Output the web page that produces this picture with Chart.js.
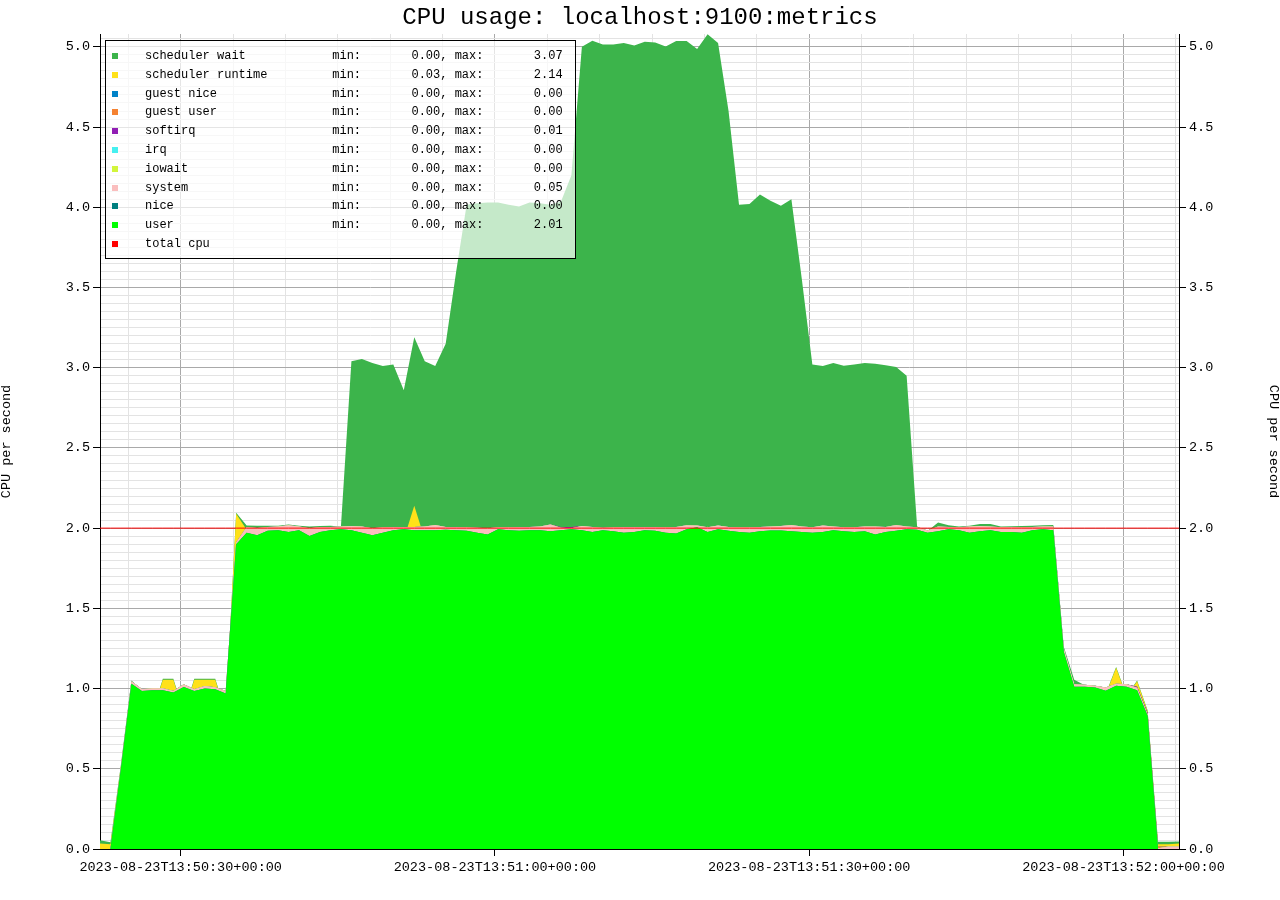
<!DOCTYPE html>
<html>
<head>
<meta charset="utf-8">
<title>CPU usage: localhost:9100:metrics</title>
<script src="https://cdn.jsdelivr.net/npm/chart.js@4.4.0/dist/chart.umd.min.js"></script>
<style>
  html, body { margin: 0; padding: 0; background: #fff; }
  #lienzo { position: relative; width: 1280px; height: 900px; }
  #titulo {
    position: absolute; left: 0; top: 4px; width: 1280px; text-align: center;
    font: 24px "Liberation Mono", monospace; line-height: 28px; color: #000;
  }
  #leyenda {
    position: absolute; left: 105px; top: 40px; width: 469px; height: 217px;
    border: 1px solid #000; background: rgba(255, 255, 255, 0.7);
    font: 12px "Liberation Mono", monospace; color: #000;
  }
  .fila { position: absolute; left: 0; height: 18px; line-height: 18px; white-space: pre; }
  .fila i { position: absolute; left: 6px; top: 6px; width: 6px; height: 6px; }
  .fila span { position: absolute; left: 39px; }
</style>
</head>
<body>
<div id="lienzo">
  <canvas id="grafica" width="1280" height="900"></canvas>
  <div id="titulo">CPU usage: localhost:9100:metrics</div>
  <div id="leyenda"></div>
</div>
<script>
// muestras cada ~1 s, segundos contados desde 13:50:00
const START_SEC = 22.3;
const STEP_SEC = 1.0;

const userCpu = [
  0, 0, 0.5, 1.03, 0.985, 0.99, 0.99, 0.975, 1.01, 0.985, 1.0, 0.995, 0.97,
  1.9, 1.972, 1.956, 1.983, 1.987, 1.976, 1.987, 1.951, 1.976, 1.987,
  1.993, 1.987, 1.972, 1.956, 1.972, 1.987, 1.993, 1.987, 1.987, 1.987, 1.99,
  1.987, 1.983, 1.972, 1.96, 1.993, 1.987, 1.983, 1.987, 1.987, 1.98, 1.987, 1.993,
  1.987, 1.976, 1.987, 1.98, 1.972, 1.976, 1.987, 1.983, 1.972, 1.966, 1.993, 2.005,
  1.976, 1.993, 1.983, 1.976, 1.972, 1.98, 1.985, 1.985, 1.98, 1.976, 1.972, 1.976,
  1.987, 1.98, 1.976, 1.98, 1.96, 1.976, 1.983, 1.993, 1.99, 1.972, 1.98, 1.993,
  1.987, 1.972, 1.98, 1.987, 1.976, 1.976, 1.972, 1.987, 1.993, 1.987,
  1.23, 1.012, 1.012, 1.006, 0.987, 1.018, 1.012, 0.99, 0.83, 0, 0, 0
];
const niceCpu = [
  0, 0, 0, 0, 0, 0, 0, 0, 0, 0, 0, 0, 0, 0, 0, 0, 0, 0, 0, 0, 0, 0, 0, 0, 0, 0,
  0, 0, 0, 0, 0, 0, 0, 0, 0, 0, 0, 0, 0, 0, 0, 0, 0, 0, 0, 0, 0, 0, 0, 0, 0, 0,
  0, 0, 0, 0, 0, 0, 0, 0, 0, 0, 0, 0, 0, 0, 0, 0, 0, 0, 0, 0, 0, 0, 0, 0, 0, 0,
  0, 0, 0, 0, 0, 0, 0, 0, 0, 0, 0, 0, 0, 0, 0, 0, 0, 0, 0, 0, 0, 0, 0, 0, 0, 0
];
const systemCpu = [
  0, 0, 0.01, 0.015, 0.012, 0.012, 0.012, 0.01, 0.017, 0.011, 0.016, 0.013, 0.015,
  0.01, 0.035, 0.045, 0.024, 0.023, 0.042, 0.023, 0.048, 0.031, 0.02,
  0.017, 0.027, 0.038, 0.044, 0.033, 0.02, 0.014, 0.02, 0.023, 0.033, 0.017,
  0.02, 0.022, 0.031, 0.04, 0.012, 0.018, 0.024, 0.02, 0.023, 0.042, 0.015, 0.006,
  0.027, 0.031, 0.016, 0.025, 0.035, 0.031, 0.02, 0.024, 0.033, 0.041, 0.025, 0.012,
  0.029, 0.023, 0.024, 0.029, 0.033, 0.027, 0.025, 0.029, 0.04, 0.034, 0.033, 0.04,
  0.023, 0.025, 0.029, 0.03, 0.05, 0.031, 0.037, 0.017, 0.015, 0.013, 0.03, 0.014,
  0.018, 0.038, 0.034, 0.023, 0.029, 0.031, 0.033, 0.02, 0.017, 0.023,
  0.02, 0.015, 0.012, 0.012, 0.02, 0.012, 0.015, 0.015, 0.01, 0.005, 0.015, 0.015
];
const iowaitCpu = [
  0, 0, 0, 0, 0, 0, 0, 0, 0, 0, 0, 0, 0, 0, 0, 0, 0, 0, 0, 0, 0, 0, 0, 0, 0, 0,
  0, 0, 0, 0, 0, 0, 0, 0, 0, 0, 0, 0, 0, 0, 0, 0, 0, 0, 0, 0, 0, 0, 0, 0, 0, 0,
  0, 0, 0, 0, 0, 0, 0, 0, 0, 0, 0, 0, 0, 0, 0, 0, 0, 0, 0, 0, 0, 0, 0, 0, 0, 0,
  0, 0, 0, 0, 0, 0, 0, 0, 0, 0, 0, 0, 0, 0, 0, 0, 0, 0, 0, 0, 0, 0, 0, 0, 0, 0
];
const irqCpu = [
  0, 0, 0, 0, 0, 0, 0, 0, 0, 0, 0, 0, 0, 0, 0, 0, 0, 0, 0, 0, 0, 0, 0, 0, 0, 0,
  0, 0, 0, 0, 0, 0, 0, 0, 0, 0, 0, 0, 0, 0, 0, 0, 0, 0, 0, 0, 0, 0, 0, 0, 0, 0,
  0, 0, 0, 0, 0, 0, 0, 0, 0, 0, 0, 0, 0, 0, 0, 0, 0, 0, 0, 0, 0, 0, 0, 0, 0, 0,
  0, 0, 0, 0, 0, 0, 0, 0, 0, 0, 0, 0, 0, 0, 0, 0, 0, 0, 0, 0, 0, 0, 0, 0, 0, 0
];
const softirqCpu = [
  0, 0, 0, 0, 0, 0, 0, 0, 0, 0, 0, 0, 0, 0, 0, 0, 0, 0, 0, 0, 0, 0, 0, 0, 0, 0,
  0, 0, 0, 0, 0, 0, 0, 0, 0, 0, 0, 0, 0, 0, 0, 0, 0, 0, 0.005, 0.008, 0, 0, 0, 0, 0, 0,
  0, 0, 0, 0, 0, 0, 0, 0, 0, 0, 0, 0, 0, 0, 0, 0, 0, 0, 0, 0, 0, 0, 0, 0, 0, 0,
  0, 0, 0, 0, 0, 0, 0, 0, 0, 0, 0, 0, 0, 0, 0, 0, 0, 0, 0, 0, 0, 0.006, 0.01, 0.01
];
const guestUserCpu = [
  0, 0, 0, 0, 0, 0, 0, 0, 0, 0, 0, 0, 0, 0, 0, 0, 0, 0, 0, 0, 0, 0, 0, 0, 0, 0,
  0, 0, 0, 0, 0, 0, 0, 0, 0, 0, 0, 0, 0, 0, 0, 0, 0, 0, 0, 0, 0, 0, 0, 0, 0, 0,
  0, 0, 0, 0, 0, 0, 0, 0, 0, 0, 0, 0, 0, 0, 0, 0, 0, 0, 0, 0, 0, 0, 0, 0, 0, 0,
  0, 0, 0, 0, 0, 0, 0, 0, 0, 0, 0, 0, 0, 0, 0, 0, 0, 0, 0, 0, 0, 0, 0, 0, 0, 0
];
const guestNiceCpu = [
  0, 0, 0, 0, 0, 0, 0, 0, 0, 0, 0, 0, 0, 0, 0, 0, 0, 0, 0, 0, 0, 0, 0, 0, 0, 0,
  0, 0, 0, 0, 0, 0, 0, 0, 0, 0, 0, 0, 0, 0, 0, 0, 0, 0, 0, 0, 0, 0, 0, 0, 0, 0,
  0, 0, 0, 0, 0, 0, 0, 0, 0, 0, 0, 0, 0, 0, 0, 0, 0, 0, 0, 0, 0, 0, 0, 0, 0, 0,
  0, 0, 0, 0, 0, 0, 0, 0, 0, 0, 0, 0, 0, 0, 0, 0, 0, 0, 0, 0, 0, 0, 0, 0, 0, 0
];
const schedRuntime = [
  0.035, 0.03, 0.52, 1.03, 0.97, 0.85, 1.055, 1.055, 0.85, 1.055, 1.055, 1.055, 0.85,
  2.09, 1.99, 1.95, 1.97, 1.97, 1.98, 1.97, 1.95, 1.97, 1.97,
  1.98, 1.98, 1.98, 1.96, 1.97, 1.98, 1.93, 2.14, 1.93, 1.98, 1.98,
  1.98, 1.98, 1.97, 1.96, 1.99, 1.98, 1.98, 1.98, 1.98, 1.98, 1.98, 1.99,
  1.98, 1.97, 1.98, 1.98, 1.97, 1.97, 1.98, 1.98, 1.97, 1.97, 1.99, 1.99,
  2.009, 1.99, 1.98, 1.98, 1.97, 1.98, 1.98, 1.98, 1.99, 1.98, 1.97, 1.98,
  1.98, 1.98, 1.97, 1.98, 1.96, 1.98, 1.99, 1.99, 1.99, 1.96, 1.98, 1.98,
  1.97, 1.98, 1.98, 1.98, 1.97, 1.97, 1.97, 1.98, 1.99, 1.99,
  1.23, 1.02, 1.0, 1.0, 0.96, 1.13, 0.95, 1.045, 0.86, 0.03, 0.03, 0.035
];
const schedWait = [
  0.02, 0.012, 0.008, 0.02, 0.02, 0.006, 0.006, 0.006, 0.006, 0.006, 0.006, 0.006, 0.006,
  0.006, 0.026, 0.065, 0.045, 0.045, 0.042, 0.045, 0.06, 0.044, 0.045,
  0.03, 1.06, 1.075, 1.07, 1.04, 1.04, 0.93, 1.05, 1.11, 1.03, 1.17,
  1.62, 2.035, 2.055, 2.07, 2.04, 2.035, 2.025, 2.05, 2.045, 2.035, 2.055, 2.21,
  3.02, 3.068, 3.035, 3.035, 3.054, 3.039, 3.052, 3.047, 3.032, 3.067, 3.047, 2.996,
  3.07, 3.034, 2.62, 2.035, 2.05, 2.10, 2.06, 2.03, 2.06, 1.57, 1.05, 1.03,
  1.05, 1.032, 1.05, 1.05, 1.065, 1.035, 1.015, 0.96, 0.02, 0.022, 0.055, 0.038,
  0.04, 0.035, 0.046, 0.046, 0.04, 0.042, 0.043, 0.035, 0.028, 0.03,
  0.03, 0.035, 0.02, 0.015, 0.006, 0.004, 0.006, 0.005, 0.005, 0.015, 0.015, 0.012
];
const totalCpu = [
  2, 2, 2, 2, 2, 2, 2, 2, 2, 2, 2, 2, 2, 2, 2, 2, 2, 2, 2, 2, 2, 2, 2, 2, 2, 2,
  2, 2, 2, 2, 2, 2, 2, 2, 2, 2, 2, 2, 2, 2, 2, 2, 2, 2, 2, 2, 2, 2, 2, 2, 2, 2,
  2, 2, 2, 2, 2, 2, 2, 2, 2, 2, 2, 2, 2, 2, 2, 2, 2, 2, 2, 2, 2, 2, 2, 2, 2, 2,
  2, 2, 2, 2, 2, 2, 2, 2, 2, 2, 2, 2, 2, 2, 2, 2, 2, 2, 2, 2, 2, 2, 2, 2, 2, 2
];

// ejes
const X_MIN = 22.3;
const X_MAX = 125.3;
const Y_MAX = 5.08;
const timeTickSeconds = [30, 60, 90, 120];
const timeTickLabels = [
  '2023-08-23T13:50:30+00:00', '2023-08-23T13:51:00+00:00',
  '2023-08-23T13:51:30+00:00', '2023-08-23T13:52:00+00:00'
];
const yTickLabels = ['0.0', '0.5', '1.0', '1.5', '2.0', '2.5', '3.0', '3.5', '4.0', '4.5', '5.0'];

// leyenda (orden de la imagen)
const legendNames = ['scheduler wait', 'scheduler runtime', 'guest nice', 'guest user', 'softirq',
  'irq', 'iowait', 'system', 'nice', 'user', 'total cpu'];
const legendColors = ['#3cb44b', '#ffe119', '#0082c8', '#f58231', '#911eb4',
  '#46f0f0', '#d2f53c', '#fabebe', '#008080', '#00ff00', '#ff0000'];
const legendMin = ['0.00', '0.03', '0.00', '0.00', '0.00', '0.00', '0.00', '0.00', '0.00', '0.00', null];
const legendMax = ['3.07', '2.14', '0.00', '0.00', '0.01', '0.00', '0.00', '0.05', '0.00', '2.01', null];

const FUENTE = '"Liberation Mono", monospace';
const GRID_MAYOR = '#a9a9a9';
const GRID_MENOR = '#e3e3e3';

const sampleSec = userCpu.map((_, i) => START_SEC + i * STEP_SEC);
const toPoints = valores => valores.map((v, i) => ({ x: sampleSec[i], y: v }));

function area(label, valores, color, stack) {
  return {
    label, data: toPoints(valores), stack,
    backgroundColor: color, borderColor: 'rgba(0,0,0,0)', borderWidth: 0,
    fill: 'origin', pointRadius: 0, tension: 0
  };
}

// el primero queda encima; cada área se rellena desde 0
const datasets = [
  { label: 'total cpu', data: toPoints(totalCpu), stack: 'total', borderColor: '#ff0000',
    borderWidth: 1, fill: false, pointRadius: 0, tension: 0 },
  area('user', userCpu, '#00ff00', 'modos'),
  area('nice', niceCpu, '#008080', 'modos'),
  area('system', systemCpu, '#fabebe', 'modos'),
  area('iowait', iowaitCpu, '#d2f53c', 'modos'),
  area('irq', irqCpu, '#46f0f0', 'modos'),
  area('softirq', softirqCpu, '#911eb4', 'modos'),
  area('guest user', guestUserCpu, '#f58231', 'modos'),
  area('guest nice', guestNiceCpu, '#0082c8', 'modos'),
  area('scheduler runtime', schedRuntime, '#ffe119', 'sched'),
  area('scheduler wait', schedWait, '#3cb44b', 'sched')
];

const esMayorY = v => Math.round(v * 100) % 50 === 0;
const esMayorX = v => timeTickSeconds.includes(Math.round(v));

function ticksY(scale) {
  const t = [];
  for (let i = 0; i * 0.05 < Y_MAX; i++) t.push({ value: Math.round(i * 5) / 100 });
  scale.ticks = t;
}
function etiquetaY(v) {
  return esMayorY(v) ? yTickLabels[Math.round(v * 2)] : '';
}
function ejeY(posicion, ancho, conGrid) {
  return {
    position: posicion, min: 0, max: Y_MAX, stacked: posicion === 'left',
    afterBuildTicks: ticksY,
    afterFit: s => { s.width = ancho; },
    ticks: { autoSkip: false, padding: 3, color: '#000', font: { family: FUENTE, size: 13.5 }, callback: etiquetaY },
    grid: {
      drawOnChartArea: conGrid, tickLength: 7,
      color: c => esMayorY(c.tick.value) ? GRID_MAYOR : GRID_MENOR,
      tickColor: c => esMayorY(c.tick.value) ? '#000' : 'rgba(0,0,0,0)'
    },
    border: { color: '#000', width: 1 },
    title: { display: true, text: 'CPU per second', color: '#000', padding: 0,
      font: { family: FUENTE, size: 13.5, lineHeight: 1 } }
  };
}

new Chart(document.getElementById('grafica'), {
  type: 'line',
  data: { datasets },
  options: {
    responsive: false,
    animation: false,
    devicePixelRatio: 1,
    layout: { padding: { top: 34, left: 0, right: 0, bottom: 0 } },
    plugins: { legend: { display: false }, tooltip: { enabled: false }, title: { display: false } },
    scales: {
      x: {
        type: 'linear', min: X_MIN, max: X_MAX,
        afterBuildTicks: scale => {
          const t = [];
          for (let s = 25; s <= X_MAX; s += 5) t.push({ value: s });
          scale.ticks = t;
        },
        afterFit: s => { s.height = 51; },
        ticks: {
          autoSkip: false, maxRotation: 0, minRotation: 0, padding: 3, color: '#000',
          font: { family: FUENTE, size: 13.5 },
          callback: v => {
            const i = timeTickSeconds.indexOf(Math.round(v));
            return i >= 0 ? timeTickLabels[i] : '';
          }
        },
        grid: {
          tickLength: 7,
          color: c => esMayorX(c.tick.value) ? GRID_MAYOR : GRID_MENOR,
          tickColor: c => esMayorX(c.tick.value) ? '#000' : 'rgba(0,0,0,0)'
        },
        border: { color: '#000', width: 1 }
      },
      y: ejeY('left', 100, true),
      y2: ejeY('right', 101, false)
    }
  }
});

// leyenda HTML encima del área
const caja = document.getElementById('leyenda');
legendNames.forEach((nombre, i) => {
  const fila = document.createElement('div');
  fila.className = 'fila';
  fila.style.top = (6 + i * 18.8) + 'px';
  const cuadro = document.createElement('i');
  cuadro.style.background = legendColors[i];
  const texto = document.createElement('span');
  texto.textContent = legendMin[i] === null ? nombre
    : nombre.padEnd(26) + 'min:' + legendMin[i].padStart(11) + ', max:' + legendMax[i].padStart(11);
  fila.appendChild(cuadro);
  fila.appendChild(texto);
  caja.appendChild(fila);
});
</script>
</body>
</html>
